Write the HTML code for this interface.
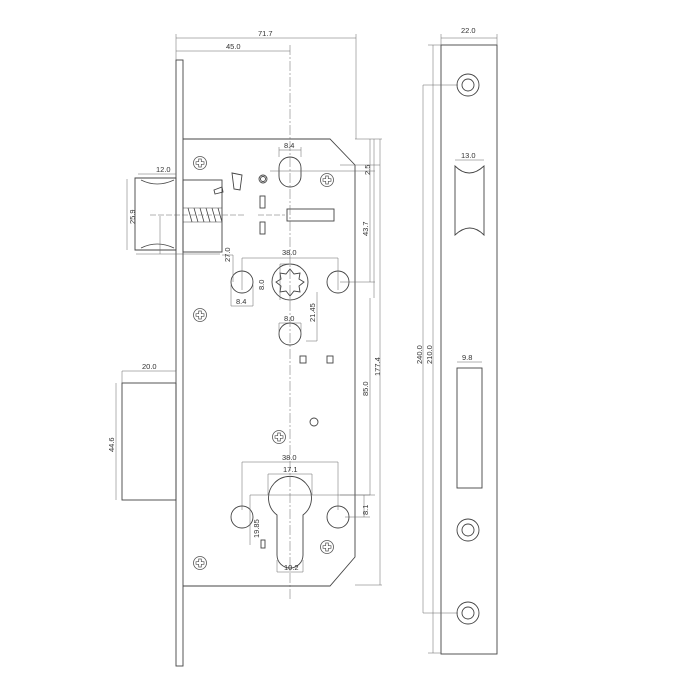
<!DOCTYPE html>
<html><head><style>html,body{margin:0;padding:0;background:#fff}svg{display:block}text{font-family:"Liberation Sans",sans-serif;font-size:7.5px;fill:#333}</style></head>
<body>
<svg width="700" height="700" viewBox="0 0 700 700" xmlns="http://www.w3.org/2000/svg">
<defs>
<g id="scr"><circle r="6.5" fill="none" stroke="#555" stroke-width="0.8"/><path d="M-1.3,-4 h2.6 v2.7 h2.7 v2.6 h-2.7 v2.7 h-2.6 v-2.7 h-2.7 v-2.6 h2.7z" fill="none" stroke="#555" stroke-width="0.7"/></g>
</defs>
<g fill="none" stroke="#444" stroke-width="0.9">
<rect x="176" y="60" width="7" height="606"/>
<path d="M183,139 H330 L355,165 V557 L330,586 H183"/>
<path d="M135,178 H176 V250 H135 Z"/>
<path d="M141,180 q16,8 33,0 M141,248 q16,-8 33,0" stroke-width="0.7"/>
<rect x="183" y="180" width="39" height="72"/>
<path d="M188,208 l4,14 M194,208 l4,14 M200,208 l4,14 M206,208 l4,14 M212,208 l4,14 M218,208 l4,14" stroke-width="0.8"/>
<path d="M183,208 H222 M183,222 H222" stroke-width="0.6"/>
<path d="M232,173 L242,175 L240,190 L234,189 Z"/><path d="M214,190 l8,-3 l1,5 l-8,2z"/>
<circle cx="263" cy="179" r="4"/><circle cx="263" cy="179" r="2.5"/>
<rect x="260" y="196" width="5" height="12"/><rect x="260" y="222" width="5" height="12"/>
<rect x="287" y="209" width="47" height="12"/>
<rect x="279" y="157" width="22" height="30" rx="11"/>
<circle cx="242" cy="282" r="11"/><circle cx="338" cy="282" r="11"/>
<circle cx="290" cy="282" r="18"/>
<path d="M290,269 l4,5 6,-1 -1,6 5,3 -5,4 1,6 -6,-1 -4,5 -4,-5 -6,1 1,-6 -5,-4 5,-3 -1,-6 6,1z"/>
<circle cx="290" cy="334" r="11"/>
<rect x="300" y="356" width="6" height="7"/><rect x="327" y="356" width="6" height="7"/>
<circle cx="314" cy="422" r="4"/>
<path d="M277,515 A21.5,21.5 0 1 1 303,515 V555 A12.5,12.5 0 0 1 277,555 Z"/>
<circle cx="242" cy="517" r="11"/><circle cx="338" cy="517" r="11"/>
<rect x="261" y="540" width="4" height="8"/>
<rect x="122" y="383" width="54" height="117"/>
<rect x="441" y="45" width="56" height="609"/>
<circle cx="468" cy="85" r="11"/><circle cx="468" cy="85" r="6"/>
<circle cx="468" cy="530" r="11"/><circle cx="468" cy="530" r="6"/>
<circle cx="468" cy="613" r="11"/><circle cx="468" cy="613" r="6"/>
<path d="M455,166 q14,14 29,0 V235 q-14,-14 -29,0 Z"/>
<rect x="457" y="368" width="25" height="120"/>
</g>
<use href="#scr" x="200" y="163"/><use href="#scr" x="327" y="180"/><use href="#scr" x="200" y="315"/>
<use href="#scr" x="279" y="437"/><use href="#scr" x="200" y="563"/><use href="#scr" x="327" y="547"/>
<g fill="none" stroke="#666" stroke-width="0.5">
<path d="M290,45 V600" stroke-dasharray="10,2,2,2"/>
<path d="M150,215 H245 M258,215 H285" stroke-dasharray="6,2"/>
<path d="M176,38 H356 M176,51 H290 M176,34 V60 M356,34 V139"/>
<path d="M279,150 H301 M279,147 V157 M301,147 V157"/>
<path d="M270,171 H375 M340,165 H380"/>
<path d="M370,139 V282 M374,139 V298 M380,139 V585 M370,298 V495 M355,139 H382 M355,585 H382 M340,282 H375 M340,495 H375"/>
<path d="M160,216 V254 M136,254 H220" />
<path d="M233,255 V282 M233,255 H222"/>
<path d="M242,258 H338 M242,258 V290 M338,258 V290"/>
<path d="M231,306 H253 M231,285 V306 M253,285 V306"/>
<path d="M280,264 V300 M280,264 H290"/>
<path d="M279,323 H301 M279,323 V334 M301,323 V334"/>
<path d="M317,292 V341 M306,341 H317"/>
<path d="M138,174 H176"/>
<path d="M127,179 V250"/>
<path d="M122,371 H176 M122,371 V383 M176,371 V383"/>
<path d="M116,383 V500"/>
<path d="M242,462 H338 M242,462 V510 M338,462 V510"/>
<path d="M268,474 H312 M268,474 V495 M312,474 V495"/>
<path d="M250,495 H370 M250,495 V545"/>
<path d="M277,572 H303 M277,560 V572 M303,560 V572"/>
<path d="M364,495 V517 M345,517 H370"/>
<path d="M441,38 H497 M441,34 V45 M497,34 V45"/>
<path d="M433,45 V653 M428,45 H441 M428,653 H441"/>
<path d="M423,85 V613 M423,85 H458 M423,613 H458"/>
<path d="M455,160 H484"/>
<path d="M457,362 H482"/>
</g>
<text x="258" y="36">71.7</text>
<text x="226" y="49">45.0</text>
<text x="284" y="148">8.4</text>
<text x="156" y="172">12.0</text>
<text x="461" y="158">13.0</text>
<text x="461" y="33">22.0</text>
<text x="462" y="360">9.8</text>
<text x="282" y="255">38.0</text>
<text x="236" y="304">8.4</text>
<text x="284" y="321">8.0</text>
<text x="142" y="369">20.0</text>
<text x="282" y="460">38.0</text>
<text x="283" y="472">17.1</text>
<text x="284" y="570">10.2</text>
<g>
<text transform="translate(370,175) rotate(-90)">2.5</text>
<text transform="translate(368,236) rotate(-90)">43.7</text>
<text transform="translate(380,376) rotate(-90)">177.4</text>
<text transform="translate(368,396) rotate(-90)">85.0</text>
<text transform="translate(368,515) rotate(-90)">8.1</text>
<text transform="translate(135,224) rotate(-90)">25.9</text>
<text transform="translate(230,262) rotate(-90)">27.0</text>
<text transform="translate(264,290) rotate(-90)">8.0</text>
<text transform="translate(315,322) rotate(-90)">21.45</text>
<text transform="translate(114,452) rotate(-90)">44.6</text>
<text transform="translate(259,538) rotate(-90)">19.85</text>
<text transform="translate(422,364) rotate(-90)">240.0</text>
<text transform="translate(432,364) rotate(-90)">210.0</text>
</g>
</svg>
</body></html>
